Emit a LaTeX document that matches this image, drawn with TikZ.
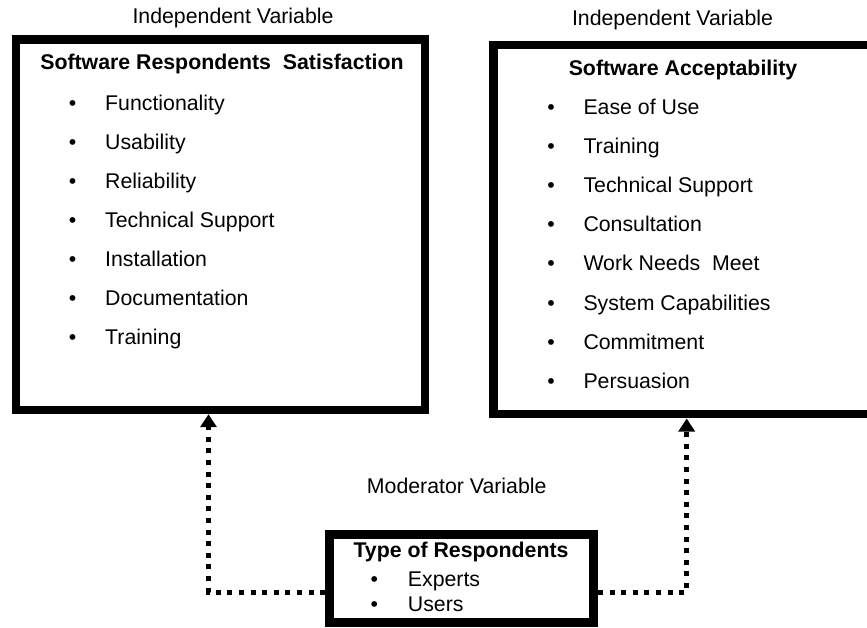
\documentclass[tikz,border=0pt]{standalone}
\usepackage{fontspec}
\setmainfont{Liberation Sans}
\usetikzlibrary{arrows.meta}
\tikzset{
  bigbox/.style={draw=black,line width=8.8pt,inner sep=0pt,fill=white},
  txt/.style={inner sep=0pt,font=\fontsize{21.3}{25}\selectfont},
  ttl/.style={inner sep=0pt,font=\fontsize{21.3}{25}\selectfont\bfseries},
  dotline/.style={line width=5pt,dash pattern=on 5pt off 6.6pt,
     -{Triangle[width=16pt,length=13pt]}}
}
\begin{document}
\begin{tikzpicture}[x=1pt,y=-1pt]
\useasboundingbox (0,0) rectangle (867,628);
% boxes
\node[bigbox,minimum width=409pt,minimum height=370pt] (lbox) at (220.5,224.9) {};
\node[bigbox,minimum width=377.5pt,minimum height=369pt] (rbox) at (682.25,229.5) {};
\node[bigbox,minimum width=264pt,minimum height=88pt] (mbox) at (461.5,578.5) {};
% headings
\node[txt,anchor=base] (iv1) at (233,24) {Independent Variable};
\node[txt,anchor=base] (iv2) at (672.5,26) {Independent Variable};
\node[txt,anchor=base] (mv) at (456.7,493) {Moderator Variable};
\node[ttl,anchor=base] (t1) at (222,70) {Software Respondents~ Satisfaction};
\node[ttl,anchor=base] (t2) at (683,76) {Software Acceptability};
\node[ttl,anchor=base] (t3) at (461,557.7) {Type of Respondents};
% left items
\foreach \t [count=\i] in {Functionality,Usability,Reliability,Technical Support,Installation,Documentation,Training}{
  \node[txt,anchor=base] (lb\i) at (72.7,{111+(\i-1)*38.9}) {•};
  \node[txt,anchor=base west] (li\i) at (105,{111+(\i-1)*38.9}) {\t};
}
% right items
\foreach \t [count=\i] in {Ease of Use,Training,Technical Support,Consultation,Work Needs~ Meet,System Capabilities,Commitment,Persuasion}{
  \node[txt,anchor=base] (rb\i) at (551,{115+(\i-1)*39}) {•};
  \node[txt,anchor=base west] (ri\i) at (583.3,{115+(\i-1)*39}) {\t};
}
% moderator items
\node[txt,anchor=base] (mb1) at (374.3,586) {•};
\node[txt,anchor=base west] (mi1) at (407.7,586) {Experts};
\node[txt,anchor=base] (mb2) at (374.3,611) {•};
\node[txt,anchor=base west] (mi2) at (407.7,611) {Users};
% connectors
\coordinate (ltip) at (208.5,414.2);
\coordinate (rtip) at (686.7,418.5);
\draw[dotline] ([yshift=-13.5pt]mbox.west) -| (ltip);
\draw[dotline] ([yshift=-13.5pt]mbox.east) -| (rtip);
\end{tikzpicture}
\end{document}
